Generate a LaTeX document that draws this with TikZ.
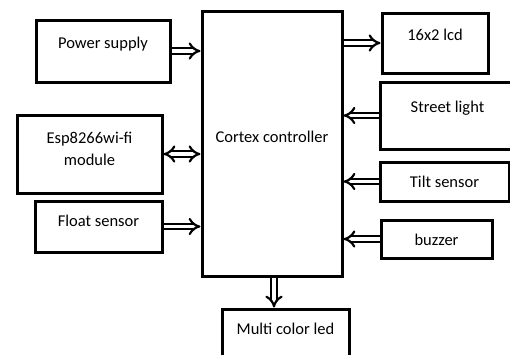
\documentclass[tikz,border=0pt]{standalone}
\usepackage{fontspec}
\setmainfont{Carlito}
\usetikzlibrary{arrows.meta}

\begin{document}
\begin{tikzpicture}[x=1pt,y=-1pt,
    block/.style={draw,line width=3pt,inner sep=0pt},
    lbl/.style={font=\fontsize{16.5}{22}\selectfont,align=center,inner sep=0pt},
    link/.style={double,double distance=3.5pt,line width=2.2pt,-{Implies[scale=1.3]}},
    duplex/.style={double,double distance=3.5pt,line width=2.2pt,{Implies[scale=1.3]}-{Implies[scale=1.3]}}]
                \clip (0,0) rectangle (510,354);
                % controller
                \node[block,minimum width=140pt,minimum height=265pt] (ctx) at (272,143.5) {};
                \node[lbl] (ctxtxt) at ([yshift=7pt]ctx.center) {Cortex controller};
                % left side
                \node[block,minimum width=134pt,minimum height=62pt] (pwr) at (103,51) {};
                \node[lbl] (pwrtxt) at ([yshift=-26pt]pwr.north) {Power supply};
                \node[block,minimum width=145pt,minimum height=78pt] (esp) at (89.5,154) {};
                \node[lbl] (esptxt) at ([yshift=-35pt]esp.north) {Esp8266wi-fi\\module};
                \node[block,minimum width=127pt,minimum height=51pt] (flt) at (98.5,226.5) {};
                \node[lbl] (flttxt) at ([yshift=-21pt]flt.north) {Float sensor};
                % right side
                \node[block,minimum width=106pt,minimum height=60pt] (lcd) at (435,43) {};
                \node[lbl] (lcdtxt) at ([yshift=-23pt]lcd.north) {16x2 lcd};
                \node[block,minimum width=135pt,minimum height=67pt] (str) at (447.5,115.5) {};
                \node[lbl] (strtxt) at ([yshift=-28pt]str.north) {Street light};
                \node[block,minimum width=129pt,minimum height=39pt] (tlt) at (444.5,181.5) {};
                \node[lbl] (tlttxt) at (tlt.center) {Tilt sensor};
                \node[block,minimum width=111pt,minimum height=38pt] (buz) at (436.5,239) {};
                \node[lbl] (buztxt) at ([yshift=-1pt]buz.center) {buzzer};
                % bottom
                \node[block,minimum width=127pt,minimum height=56pt] (led) at (285.5,337) {};
                \node[lbl] (ledtxt) at ([yshift=-21pt]led.north) {Multi color led};
                % connectors
                \foreach \src in {pwr,flt}{
                    \draw[link] (\src.east) -- (ctx.west |- \src.east);
                }
                \draw[duplex] (esp.east) -- (ctx.west |- esp.east);
                \draw[link] (ctx.east |- lcd.west) -- (lcd.west);
                \foreach \src in {str,tlt,buz}{
                    \draw[link] (\src.west) -- (ctx.east |- \src.west);
                }
                \draw[link] ([xshift=2pt]ctx.south) -- ([xshift=2pt]ctx.south |- led.north);
            \end{tikzpicture}
\end{document}
